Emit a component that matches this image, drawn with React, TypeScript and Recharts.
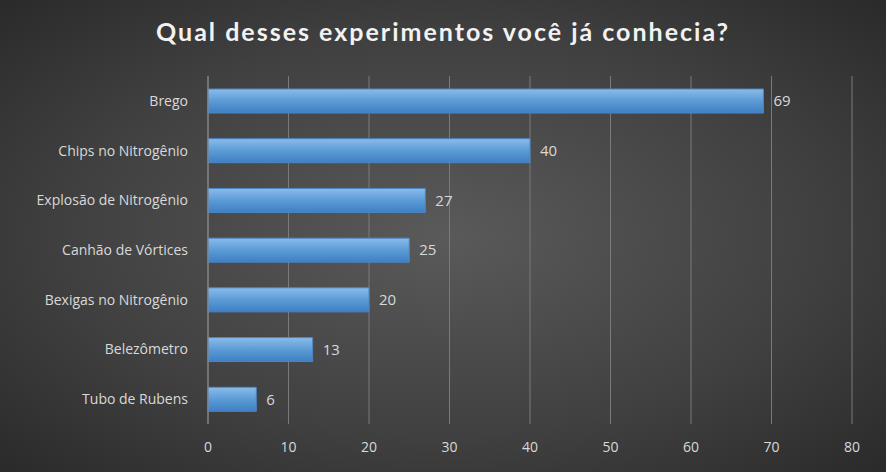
import { BarChart, Bar, XAxis, YAxis, CartesianGrid, LabelList } from "recharts";

const categories = [
  "Brego",
  "Chips no Nitrogênio",
  "Explosão de Nitrogênio",
  "Canhão de Vórtices",
  "Bexigas no Nitrogênio",
  "Belezômetro",
  "Tubo de Rubens",
];
const values = [69, 40, 27, 25, 20, 13, 6];
const xTicks = [0, 10, 20, 30, 40, 50, 60, 70, 80];

const data = categories.map((name, i) => ({ name, value: values[i] }));

const font = "'Open Sans', Lato, sans-serif";

export default function App() {
  return (
    <div
      style={{
        position: "absolute",
        left: 0,
        top: 0,
        width: 886,
        height: 472,
        background: "radial-gradient(ellipse at center, #5a5a5a 0%, #404040 60%, #2a2a2a 100%)",
        fontFamily: font,
      }}
    >
      <div
        style={{
          position: "absolute",
          top: 16,
          width: 886,
          textAlign: "center",
          color: "#f2f2f2",
          fontSize: 25,
          fontWeight: 700,
          letterSpacing: 2,
          fontFamily: "Lato, sans-serif",
        }}
      >
        Qual desses experimentos você já conhecia?
      </div>
      <BarChart
        width={886}
        height={472}
        data={data}
        layout="vertical"
        margin={{ top: 76, right: 34, bottom: 0, left: 0 }}
      >
        <defs>
          <linearGradient id="barFill" x1="0" y1="0" x2="0" y2="1">
            <stop offset="0%" stopColor="#8bbcec" />
            <stop offset="50%" stopColor="#5b9bd5" />
            <stop offset="100%" stopColor="#3f7fc4" />
          </linearGradient>
        </defs>
        <CartesianGrid horizontal={false} stroke="#7a7a7a" />
        <XAxis
          type="number"
          domain={[0, 80]}
          ticks={xTicks}
          axisLine={false}
          tickLine={false}
          tick={{ fill: "#d9d9d9", fontSize: 14, fontFamily: font }}
          tickMargin={12}
          height={48}
        />
        <YAxis
          type="category"
          dataKey="name"
          width={208}
          axisLine={{ stroke: "#8a8a8a" }}
          tickLine={false}
          tick={{ fill: "#d9d9d9", fontSize: 14, fontFamily: font }}
          tickMargin={14}
        />
        <Bar
          dataKey="value"
          barSize={24}
          fill="url(#barFill)"
          stroke="#4a86c5"
          strokeWidth={1}
          isAnimationActive={false}
        >
          <LabelList
            dataKey="value"
            position="right"
            offset={10}
            style={{ fill: "#d9d9d9", fontSize: 15, fontFamily: font }}
          />
        </Bar>
      </BarChart>
    </div>
  );
}
